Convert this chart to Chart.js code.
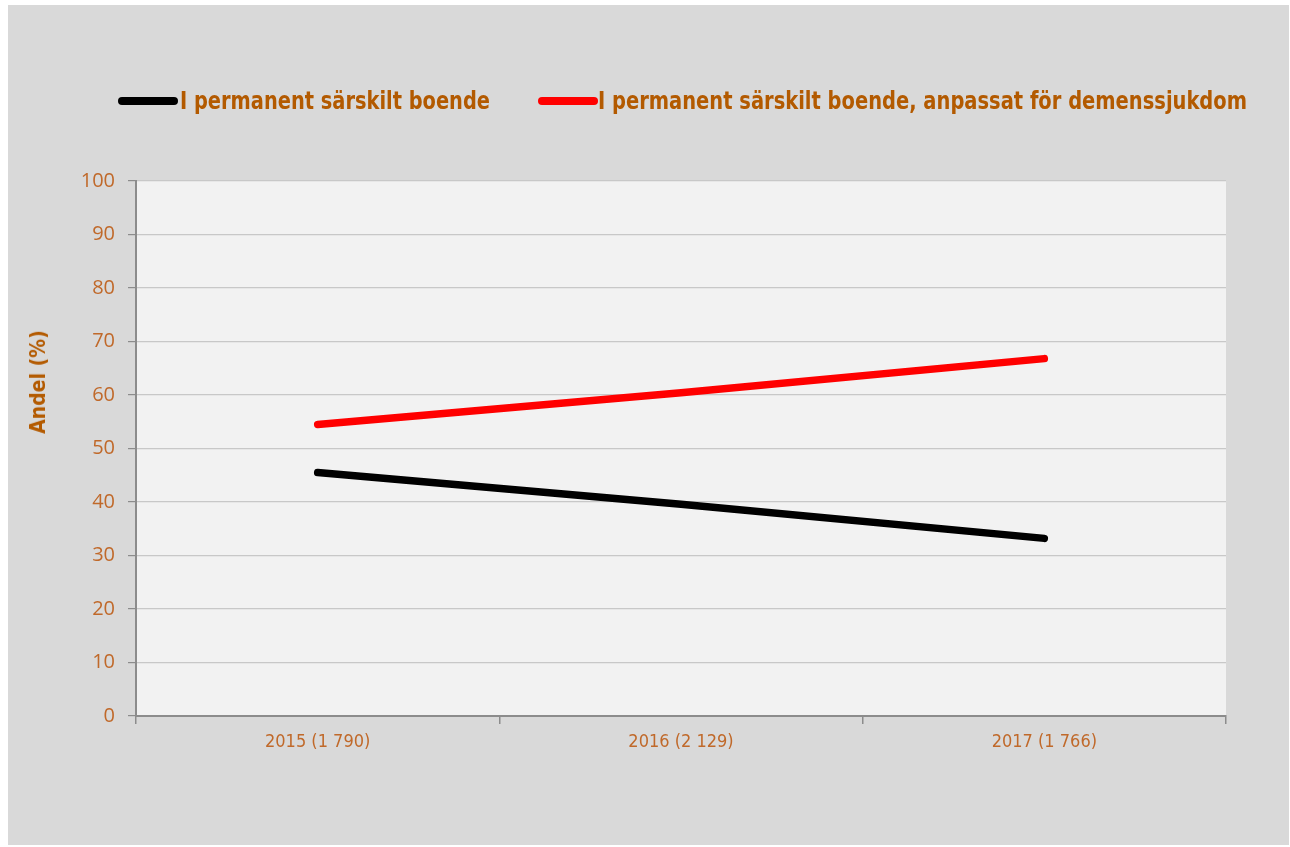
<!DOCTYPE html>
<html lang="sv">
<head>
<meta charset="utf-8">
<script src="https://cdn.jsdelivr.net/npm/chart.js@4.4.1/dist/chart.umd.min.js"></script>
<style>
  html, body { margin: 0; padding: 0; background: #fff; }
  #ram { position: absolute; left: 8px; top: 5px; width: 1281px; height: 840px; background: #d9d9d9; }
  #graf { position: absolute; left: 0; top: 0; }
  .linje { position: absolute; top: 97px; width: 60px; height: 8px; border-radius: 4px; }
  .text { position: absolute; top: 86px; white-space: nowrap; transform-origin: left center;
    font-family: 'Liberation Sans Narrow', 'DejaVu Sans Condensed', sans-serif; font-weight: bold; font-size: 25px; color: #b35a00; }
  #ytitel { position: absolute; left: 38px; top: 382px; transform: translate(-50%, -50%) rotate(-90deg); white-space: nowrap;
    font-family: 'Liberation Sans Narrow', 'DejaVu Sans Condensed', sans-serif; font-weight: bold; font-size: 21px; color: #b35a00; }
</style>
</head>
<body>
<div id="ram"></div>
<canvas id="graf" width="1290" height="847"></canvas>
<div id="legend"></div>
<div id="ytitel">Andel (%)</div>
<script>
const kategorier = ['2015 (1 790)', '2016 (2 129)', '2017 (1 766)'];
const serieNamn = ['I permanent särskilt boende', 'I permanent särskilt boende, anpassat för demenssjukdom'];
const permanentBoende = [45.5, 39.6, 33.2];
const demensBoende = [54.5, 60.4, 66.8];
const serieFarger = ['#000000', '#ff0000'];
const yMin = 0, yMax = 100, ySteg = 10;

const textFarg = '#c0692a';

// grå bakgrund i själva ritytan
const ritytaBakgrund = {
  id: 'ritytaBakgrund',
  beforeDraw(chart) {
    const { ctx, chartArea: a } = chart;
    ctx.save();
    ctx.fillStyle = '#f2f2f2';
    ctx.fillRect(a.left, a.top, a.right - a.left, a.bottom - a.top);
    ctx.restore();
  }
};

const serier = [permanentBoende, demensBoende];

// legend: linje + text, textbredden anpassas till originalet
const legend = document.getElementById('legend');
const legendPos = [{ linje: 118, text: 180, bredd: 310 }, { linje: 538, text: 598, bredd: 649 }];
serieNamn.forEach((namn, i) => {
  const p = legendPos[i];
  legend.innerHTML += `<span class="linje" style="left:${p.linje}px;background:${serieFarger[i]}"></span><span class="text" style="left:${p.text}px">${namn}</span>`;
});
document.querySelectorAll('#legend .text').forEach((el, i) => {
  const w = el.getBoundingClientRect().width;
  el.style.transform = `scaleX(${legendPos[i].bredd / w})`;
});

new Chart(document.getElementById('graf'), {
  type: 'line',
  data: {
    labels: kategorier,
    datasets: serier.map((d, i) => ({
      label: serieNamn[i], data: d, borderColor: serieFarger[i], backgroundColor: serieFarger[i],
      borderWidth: 7.5, borderCapStyle: 'round', pointRadius: 0, tension: 0, fill: false
    }))
  },
  options: {
    responsive: false, animation: false,
    layout: { padding: { left: 0, top: 181, right: 64, bottom: 71 } },
    plugins: { legend: { display: false }, tooltip: { enabled: false } },
    scales: {
      x: {
        offset: true,
        grid: { offset: true, drawOnChartArea: false, drawTicks: true, tickLength: 8, color: '#8c8c8c', lineWidth: 1.5 },
        border: { color: '#8c8c8c', width: 2 },
        ticks: { color: textFarg, padding: 8, maxRotation: 0, font: { family: "'Liberation Sans Narrow', 'DejaVu Sans Condensed', sans-serif", size: 18 } },
        afterFit(s) { s.height = 60; }
      },
      y: {
        min: yMin, max: yMax,
        grid: { color: '#c8c8c8', lineWidth: 1.2, tickLength: 8, tickColor: '#8c8c8c' },
        border: { color: '#8c8c8c', width: 2 },
        ticks: { stepSize: ySteg, color: textFarg, padding: 13, font: { family: "'Open Sans', sans-serif", size: 20 } },
        afterFit(s) { s.width = 136; }
      }
    }
  },
  plugins: [ritytaBakgrund]
});
</script>
</body>
</html>
